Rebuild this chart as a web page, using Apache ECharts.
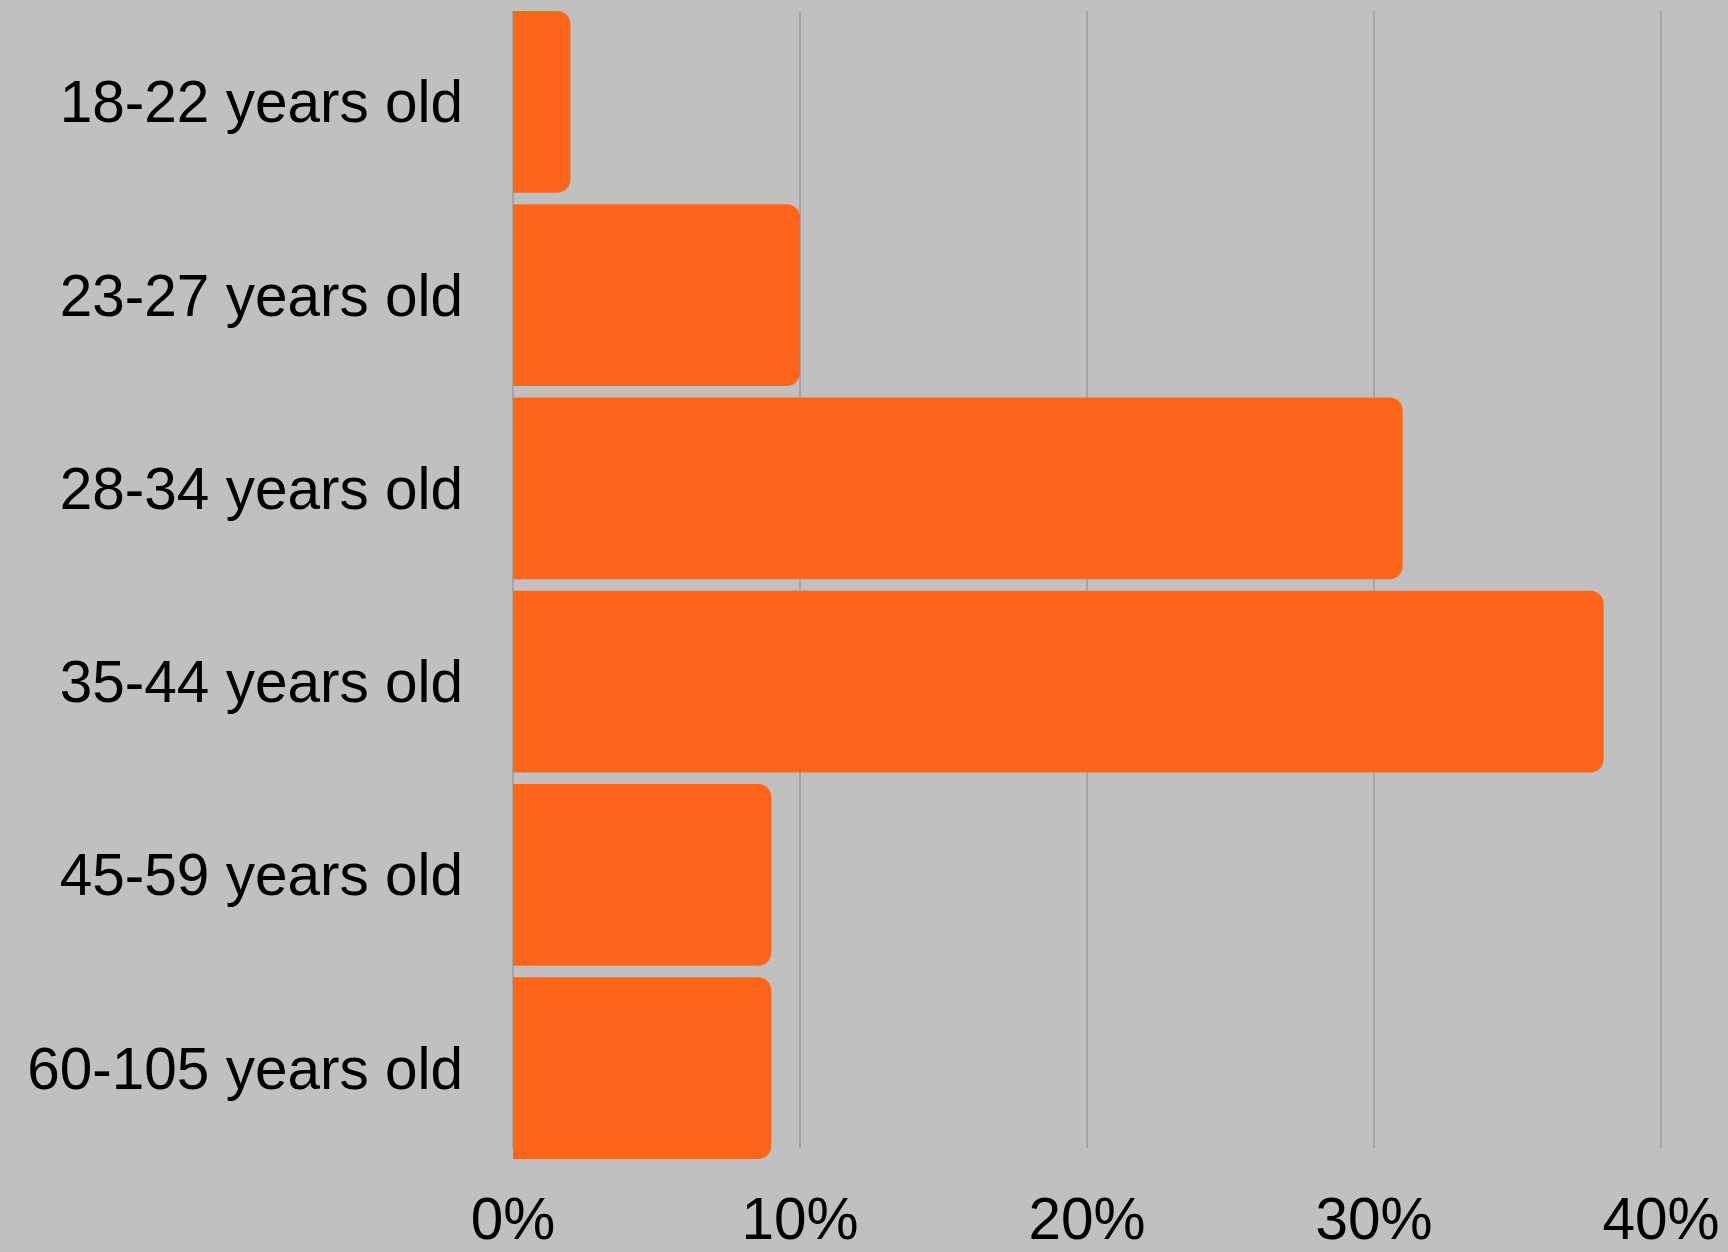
<!DOCTYPE html>
<html>
<head>
<meta charset="utf-8">
<style>
html,body{margin:0;padding:0;background:#c0c0c0;}
#chart{width:1728px;height:1252px;}
</style>
<script src="https://cdn.jsdelivr.net/npm/echarts@6/dist/echarts.min.js"></script>
</head>
<body>
<div id="chart"></div>
<script>
const categories = ["18-22 years old","23-27 years old","28-34 years old","35-44 years old","45-59 years old","60-105 years old"];
const values = [2, 10, 31, 38, 9, 9];
const xTicks = [0, 10, 20, 30, 40];

const FONT = 'Liberation Sans';
const FS = 58.5;
const chart = echarts.init(document.getElementById('chart'));
chart.setOption({
  backgroundColor: '#c0c0c0',
  animation: false,
  grid: [
    {left: 513, right: 67, top: 5.2, bottom: 87.2, containLabel: false},
    {left: 513, right: 67, top: 11, bottom: 93, containLabel: false},
    {left: 513, right: 67, top: 9.5, bottom: 82.9, containLabel: false}
  ],
  xAxis: [
    {gridIndex: 0, type: 'value', min: xTicks[0], max: xTicks[xTicks.length-1], interval: 10, show: false},
    {
      gridIndex: 1, type: 'value', min: xTicks[0], max: xTicks[xTicks.length-1], interval: 10,
      axisLine: {show: false}, axisTick: {show: false},
      splitLine: {show: true, lineStyle: {color: '#9c9c9c', width: 1.5}},
      axisLabel: {formatter: v => v + '%', color: '#000', fontFamily: FONT, fontSize: FS, margin: 45}
    },
    {gridIndex: 2, type: 'value', min: xTicks[0], max: xTicks[xTicks.length-1], interval: 10, show: false}
  ],
  yAxis: [
    {gridIndex: 0, type: 'category', data: categories, inverse: true, show: false},
    {gridIndex: 1, type: 'category', data: categories, inverse: true, show: false},
    {
      gridIndex: 2, type: 'category', data: categories, inverse: true,
      axisLine: {show: false}, axisTick: {show: false}, splitLine: {show: false},
      axisLabel: {color: '#000', fontFamily: FONT, fontSize: FS, margin: 50}
    }
  ],
  series: [{
    type: 'bar', xAxisIndex: 0, yAxisIndex: 0, data: values, barCategoryGap: '6%',
    itemStyle: {color: '#ff661a', borderRadius: [0, 13, 13, 0]}
  }]
});
</script>
</body>
</html>
